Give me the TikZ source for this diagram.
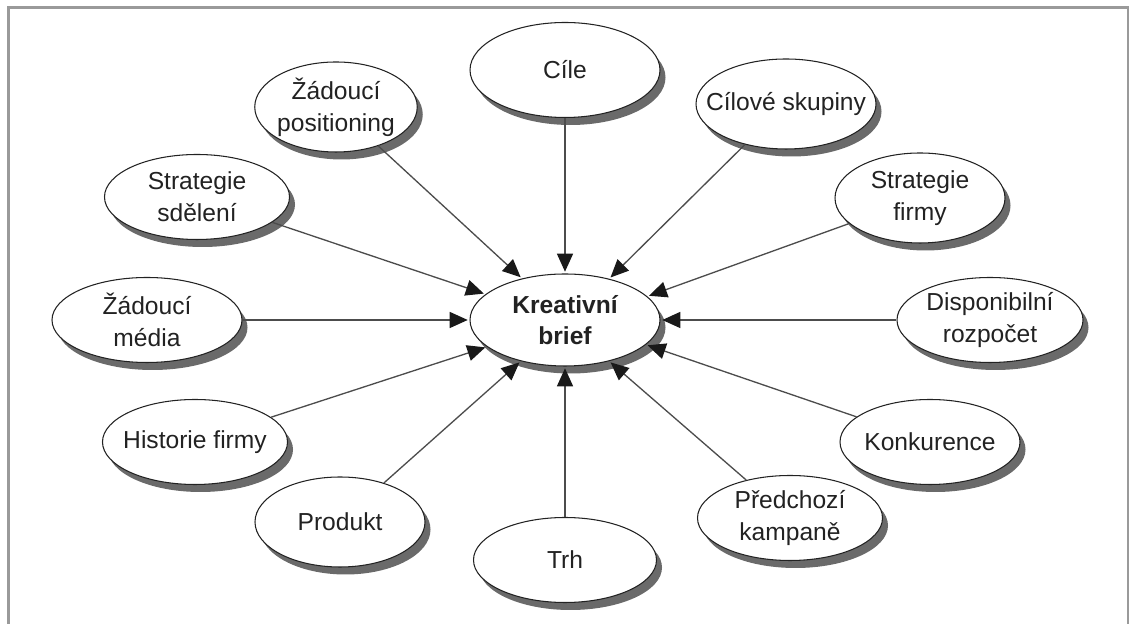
\documentclass[tikz,border=0pt]{standalone}
\usepackage{fontspec}
\setmainfont{Liberation Sans}
\usepackage{xcolor}
\usepackage{tikz}
\usetikzlibrary{positioning,shapes.geometric,shadows,arrows.meta}
\definecolor{BubbleInk}{HTML}{222222}
\definecolor{BubbleShade}{HTML}{6A6A6A}
\definecolor{FrameGray}{HTML}{9A9A9A}

\begin{document}
\begin{tikzpicture}[
  font=\fontsize{14}{18}\selectfont,
  text=BubbleInk,
  bubble/.style={ellipse,draw=BubbleInk,line width=0.6pt,fill=white,align=center,
    inner xsep=-10pt,inner ysep=0pt,minimum width=3.7cm,minimum height=1.7cm,
    drop shadow={shadow xshift=0.11cm,shadow yshift=-0.15cm,fill=BubbleShade,opacity=1}},
  feed/.style={draw=black!70,line width=0.75pt,shorten >=1pt,
    -{Triangle[length=3.6mm,width=3.2mm,color=black!90]}},
]
  \useasboundingbox (0,0) rectangle (22.58,12.48);
  \draw[FrameGray,line width=1.6pt] (0.17,0) -- (0.17,12.33) -- (22.57,12.33) -- (22.57,0);

  \node[bubble,minimum width=3.8cm,minimum height=1.84cm,font=\fontsize{14}{18}\selectfont\bfseries] (brief) at (11.30,6.08) {Kreativní\\brief};

  \node[bubble,minimum width=3.8cm,minimum height=1.9cm] (cile) at (11.30,11.08) {Cíle};
  \node[bubble,minimum width=3.25cm,minimum height=1.8cm] (positioning) at (6.72,10.34) {Žádoucí\\positioning};
  \node[bubble,minimum width=3.6cm,minimum height=1.8cm] (skupiny) at (15.72,10.40) {Cílové skupiny};
  \node[bubble] (sdeleni) at (3.94,8.54) {Strategie\\sdělení};
  \node[bubble,minimum width=3.4cm,minimum height=1.8cm] (strategie) at (18.40,8.52) {Strategie\\firmy};
  \node[bubble,minimum width=3.8cm] (media) at (2.94,6.08) {Žádoucí\\média};
  \node[bubble,minimum width=3.72cm] (rozpocet) at (19.80,6.08) {Disponibilní\\rozpočet};
  \node[bubble] (historie) at (3.90,3.64) {Historie firmy};
  \node[bubble,minimum width=3.6cm] (konkurence) at (18.60,3.64) {Konkurence};
  \node[bubble,minimum width=3.4cm,minimum height=1.8cm] (produkt) at (6.80,2.04) {Produkt};
  \node[bubble] (kampane) at (15.80,2.12) {Předchozí\\kampaně};
  \node[bubble,minimum width=3.66cm] (trh) at (11.30,1.28) {Trh};

  \draw[feed] (cile) -- (brief.90);
  \draw[feed] (positioning) -- (brief.136);
  \draw[feed] (skupiny) -- (brief.43);
  \draw[feed] (sdeleni) -- (brief.162);
  \draw[feed] (strategie) -- (brief.16);
  \draw[feed] (media) -- (brief.180);
  \draw[feed] (rozpocet) -- (brief.0);
  \draw[feed] (historie) -- (brief.199);
  \draw[feed] (konkurence) -- (brief.343);
  \draw[feed] (produkt) -- (brief.223);
  \draw[feed] (kampane) -- (brief.317);
  \draw[feed] (trh) -- (brief.270);
\end{tikzpicture}
\end{document}
